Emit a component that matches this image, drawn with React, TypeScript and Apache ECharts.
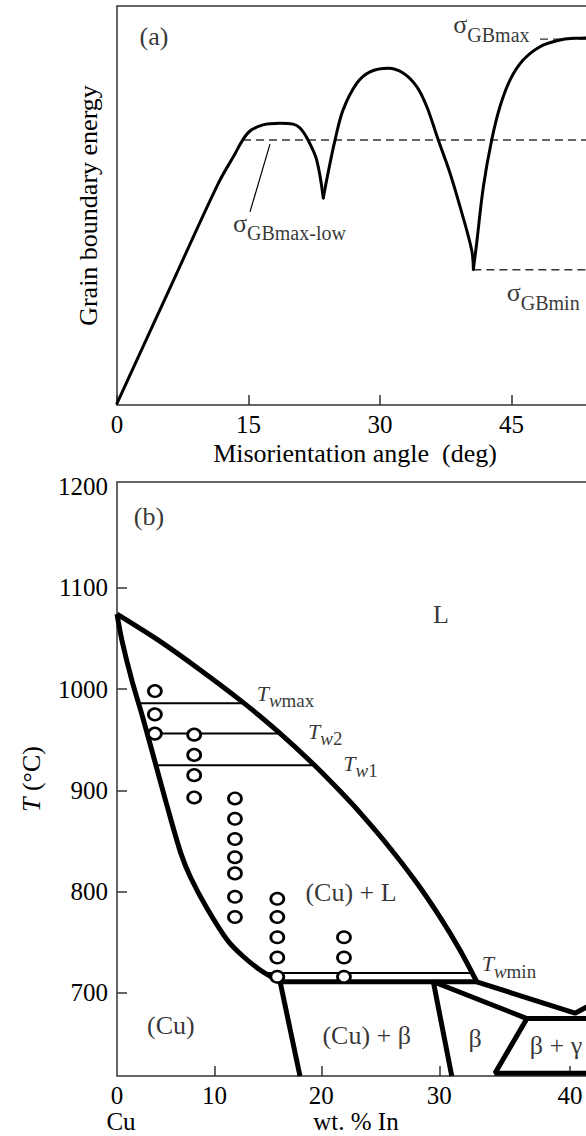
import React, { useEffect, useRef } from "react";
import * as echarts from "echarts";

const SERIF = "'Liberation Serif', 'Times New Roman', 'DejaVu Serif', serif";
const INK = "#000";
const FRAME = "#333";

// ---------------- panel (a): grain boundary energy vs misorientation ----------------
const ANGLE_MIN = 0;
const ANGLE_MAX = 60;
const ANGLE_STEP = 15;
const ENERGY_MIN = 0;
const ENERGY_MAX = 100;

// curve, split at the two cusps
const GB_CURVE_1 = [
  [0, 0.4], [6, 29.1], [11.5, 55.3], [13.27, 62.2], [14.94, 68.2], [16.66, 70.2],
  [18.59, 70.6], [20.08, 70.4], [20.88, 69.4], [21.79, 66.4], [22.78, 61.4], [23.53, 51.9],
];
const GB_CURVE_2 = [
  [23.53, 51.9], [24.07, 58.1], [24.87, 66.4], [25.78, 73.9], [27.34, 80.6], [28.86, 83.5],
  [30.95, 84.4], [32.63, 83.2], [34.19, 79.8], [35.33, 74.8], [36.65, 66.4], [37.99, 58.1],
  [39.13, 49.7], [40.46, 38.8], [40.65, 34.0],
];
const GB_CURVE_3 = [
  [40.65, 34.0], [41.03, 40.6], [41.79, 54.7], [42.74, 66.4], [43.69, 74.8], [44.84, 81.5],
  [46.35, 86.5], [48.25, 89.8], [50.16, 91.3], [52.05, 91.9], [55.1, 92.0],
];
const DASH_MAX_LOW = [[14.37, 66.4], [60, 66.4]];
const DASH_MIN = [[40.65, 33.9], [60, 33.9]];
const DASH_MAX = [[48.25, 91.7], [60, 91.7]];
const LEADER = [[17.45, 65.4], [15.17, 48.4]];

const A_NOTE_TEXT = ["{p|(a)}", "{s|σ}{g|GBmax}", "{s|σ}{g|GBmax-low}", "{s|σ}{g|GBmin}"];
const A_NOTE_AT = [[4.22, 92.3], [38.36, 95.3], [13.23, 45.5], [44.46, 28.1]];
const A_NOTE_POS = ["inside", "right", "right", "right"];

// ---------------- panel (b): Cu–In phase diagram ----------------
const WT_TICKS = [0, 10, 20, 30, 40];
const T_TICKS = [700, 800, 900, 1000, 1100, 1200];
const T_MIN = 618;
const T_MAX = 1204.4;
const AT_MAX = 30;

const LIQUIDUS = [
  [0, 1074], [4.35, 1048.3], [8.57, 1019.1], [12.68, 987.6], [15.94, 959.2], [19.28, 926],
  [21.65, 899.3], [23.39, 878], [25.77, 845.6], [28.16, 808.8], [30.06, 774.8], [31.66, 742.2],
  [32.98, 711],
];
const LIQUIDUS_TAIL = [[32.98, 711], [40.36, 680], [42.14, 693]];
const SOLIDUS = [
  [0, 1074], [0.53, 1048], [1.59, 1008.5], [2.76, 971.1], [4.06, 926.3], [5.19, 886.9],
  [6.67, 837.5], [7.68, 813.2], [9.27, 783.6], [11.27, 752], [12.77, 736.2], [14.43, 722.4],
  [16.26, 710.8],
];
const CU_SOLVUS = [[16.26, 711], [18.08, 618]];
const PERITECTIC = [[16.26, 711], [32.98, 711]];
const BETA_BOUNDARY = [[31.0, 618], [29.52, 711], [36.82, 674.7]];
const BETA_GAMMA_BOX = [[45, 674.7], [36.82, 674.7], [34.39, 620.8], [45, 620.8]];

const TW_MAX = [[2.4, 986], [12.7, 986]];
const TW_2 = [[3.3, 956], [16.1, 956]];
const TW_1 = [[4.3, 924.7], [19.3, 924.7]];
const TW_MIN = [[14.8, 719.7], [32.6, 719.7]];

const SAMPLE_WT = [4, 8, 12, 16, 22];
const SAMPLE_T = [
  [998, 975, 956],
  [955, 935, 915, 893],
  [892, 872, 852, 834, 818, 795, 775],
  [793, 775, 755, 735, 716],
  [755, 735, 716],
];

const B_NOTE_TEXT = [
  "{p|(b)}", "{p|L}", "{p|(Cu) + L}", "{p|(Cu)}", "{p|(Cu) + β}", "{p|β}", "{p|β + γ}",
  "{t|T}{w|w}{m|max}", "{t|T}{w|w}{m|2}", "{t|T}{w|w}{m|1}", "{t|T}{w|w}{m|min}",
];
const B_NOTE_AT = [
  [3.39, 1170.4], [30.14, 1073.7], [22.61, 799.4], [5.65, 668.1], [23.97, 658.3], [32.84, 655.3],
  [38.97, 648.4], [14.07, 995.7], [18.81, 958.2], [21.94, 926.6], [33.36, 729.0],
];
const B_NOTE_POS = [
  "inside", "inside", "inside", "inside", "inside", "inside", "inside",
  "right", "right", "right", "right",
];

// wt.% In  <->  at.% In (the drawing's abscissa is linear in at.%)
const toAt = (w: number) => {
  const nIn = w / 114.82;
  const nCu = (100 - w) / 63.546;
  return (100 * nIn) / (nIn + nCu);
};
const toWt = (a: number) => (100 * a * 114.82) / (a * 114.82 + (100 - a) * 63.546);
const atPts = (arr: number[][]) => arr.map(([w, t]) => [toAt(w), t]);

const richA = {
  p: { fontFamily: SERIF, fontSize: 26, color: INK },
  s: { fontFamily: SERIF, fontSize: 26, lineHeight: 40, color: INK },
  g: { fontFamily: SERIF, fontSize: 20, lineHeight: 20, verticalAlign: "bottom", color: INK },
};
const richB = {
  p: { fontFamily: SERIF, fontSize: 26, color: INK },
  t: { fontFamily: SERIF, fontSize: 22, fontStyle: "italic", lineHeight: 34, color: INK },
  w: { fontFamily: SERIF, fontSize: 19, fontStyle: "italic", lineHeight: 19, verticalAlign: "bottom", color: INK },
  m: { fontFamily: SERIF, fontSize: 19, lineHeight: 19, verticalAlign: "bottom", color: INK },
};

function lineSeries(data: number[][], idx: number, width: number, extra: any = {}) {
  return {
    type: "line",
    xAxisIndex: idx,
    yAxisIndex: idx,
    data,
    symbol: "none",
    silent: true,
    lineStyle: { color: INK, width, ...(extra.lineStyle || {}) },
    smooth: extra.smooth || false,
    z: extra.z || 3,
  };
}

export default function App() {
  const ref = useRef<HTMLDivElement>(null);
  useEffect(() => {
    if (!ref.current) return;
    const chart = echarts.init(ref.current, null, { renderer: "svg" });
    const labelAxis = {
      fontFamily: SERIF,
      fontSize: 25,
      color: INK,
    };
    const option: any = {
      animation: false,
      backgroundColor: "#fff",
      grid: [
        { left: 117, top: 6, width: 526, height: 399, show: true, borderColor: FRAME, borderWidth: 1.5, backgroundColor: "transparent" },
        { left: 117, top: 482, width: 504.3, height: 594, show: true, borderColor: FRAME, borderWidth: 1.5, backgroundColor: "transparent" },
      ],
      xAxis: [
        {
          gridIndex: 0, type: "value", min: ANGLE_MIN, max: ANGLE_MAX, interval: ANGLE_STEP,
          axisLine: { show: false }, splitLine: { show: false },
          axisTick: { show: true, inside: true, length: 10, lineStyle: { color: FRAME, width: 1.5 } },
          axisLabel: { ...labelAxis, margin: 7, showMaxLabel: false },
        },
        {
          gridIndex: 1, type: "value", min: 0, max: AT_MAX,
          axisLine: { show: false }, splitLine: { show: false },
          axisTick: {
            show: true, inside: true, length: 10, lineStyle: { color: FRAME, width: 1.5 },
            customValues: WT_TICKS.filter((w) => w > 0).map(toAt),
          },
          axisLabel: {
            ...labelAxis, margin: 7,
            customValues: WT_TICKS.map(toAt),
            formatter: (v: number) => String(Math.round(toWt(v))),
          },
        },
      ],
      yAxis: [
        {
          gridIndex: 0, type: "value", min: ENERGY_MIN, max: ENERGY_MAX,
          axisLine: { show: false }, splitLine: { show: false },
          axisTick: { show: false }, axisLabel: { show: false },
        },
        {
          gridIndex: 1, type: "value", min: T_MIN, max: T_MAX,
          axisLine: { show: false }, splitLine: { show: false },
          axisTick: {
            show: true, inside: true, length: 10, lineStyle: { color: FRAME, width: 1.5 },
            customValues: T_TICKS.filter((t) => t < 1200),
          },
          axisLabel: { ...labelAxis, margin: 9, customValues: T_TICKS, formatter: (v: number) => String(Math.round(v)) },
        },
      ],
      series: [
        // panel (a)
        lineSeries(GB_CURVE_1, 0, 3, { smooth: 0.35, lineStyle: { cap: "round" } }),
        lineSeries(GB_CURVE_2, 0, 3, { smooth: 0.35, lineStyle: { cap: "round" } }),
        lineSeries(GB_CURVE_3, 0, 3, { smooth: 0.35, lineStyle: { cap: "round" } }),
        lineSeries(DASH_MAX_LOW, 0, 1.4, { lineStyle: { type: [8, 5], color: FRAME }, z: 2 }),
        lineSeries(DASH_MIN, 0, 1.4, { lineStyle: { type: [8, 5], color: FRAME }, z: 2 }),
        lineSeries(DASH_MAX, 0, 1.4, { lineStyle: { type: [8, 5], color: FRAME }, z: 2 }),
        lineSeries(LEADER, 0, 1.2, { z: 2 }),
        {
          type: "scatter", xAxisIndex: 0, yAxisIndex: 0, symbolSize: 0, silent: true, z: 6,
          label: { show: true, distance: 0, rich: richA },
          data: A_NOTE_AT.map((p, i) => ({
            value: p,
            label: { formatter: A_NOTE_TEXT[i], position: A_NOTE_POS[i] },
          })),
        },
        // panel (b)
        lineSeries(atPts(LIQUIDUS), 1, 5, { smooth: 0.3 }),
        lineSeries(atPts(LIQUIDUS_TAIL), 1, 5),
        lineSeries(atPts(SOLIDUS), 1, 5, { smooth: 0.3 }),
        lineSeries(atPts(CU_SOLVUS), 1, 5),
        lineSeries(atPts(PERITECTIC), 1, 5),
        lineSeries(atPts(BETA_BOUNDARY), 1, 5),
        lineSeries(atPts(BETA_GAMMA_BOX), 1, 5),
        lineSeries(atPts(TW_MAX), 1, 2, { z: 2 }),
        lineSeries(atPts(TW_2), 1, 2, { z: 2 }),
        lineSeries(atPts(TW_1), 1, 2, { z: 2 }),
        lineSeries(atPts(TW_MIN), 1, 2, { z: 2 }),
        {
          type: "scatter", xAxisIndex: 1, yAxisIndex: 1, silent: true, z: 5,
          symbol: "circle", symbolSize: [13, 11.5],
          itemStyle: { color: "#fff", borderColor: INK, borderWidth: 2.6, opacity: 1 },
          data: SAMPLE_WT.flatMap((w, i) => SAMPLE_T[i].map((t) => [toAt(w), t])),
        },
        {
          type: "scatter", xAxisIndex: 1, yAxisIndex: 1, symbolSize: 0, silent: true, z: 6,
          label: { show: true, distance: 0, rich: richB },
          data: B_NOTE_AT.map(([w, t], i) => ({
            value: [toAt(w), t],
            label: { formatter: B_NOTE_TEXT[i], position: B_NOTE_POS[i] },
          })),
        },
      ],
      graphic: [
        {
          type: "text", x: 88, y: 205.5, rotation: Math.PI / 2,
          style: { text: "Grain boundary energy", font: `26px ${SERIF}`, textAlign: "center", textVerticalAlign: "middle", fill: INK },
        },
        {
          type: "text", x: 355, y: 453,
          style: { text: "Misorientation angle\u00a0\u00a0(deg)", font: `26px ${SERIF}`, textAlign: "center", textVerticalAlign: "middle", fill: INK },
        },
        {
          type: "text", x: 31, y: 779, rotation: Math.PI / 2,
          style: {
            text: "{i|T} (°C)", font: `26px ${SERIF}`, textAlign: "center", textVerticalAlign: "middle", fill: INK,
            rich: { i: { fontStyle: "italic", fontFamily: SERIF, fontSize: 26, fill: INK, color: INK } },
          },
        },
        {
          type: "text", x: 121, y: 1121,
          style: { text: "Cu", font: `25px ${SERIF}`, textAlign: "center", textVerticalAlign: "middle", fill: INK },
        },
        {
          type: "text", x: 356, y: 1121,
          style: { text: "wt. % In", font: `25px ${SERIF}`, textAlign: "center", textVerticalAlign: "middle", fill: INK },
        },
      ],
    };
    chart.setOption(option);
    return () => chart.dispose();
  }, []);
  return (
    <div style={{ position: "absolute", left: 0, top: 0, width: 586, height: 1136, overflow: "hidden", background: "#fff" }}>
      <div ref={ref} style={{ width: 660, height: 1136 }} />
    </div>
  );
}
